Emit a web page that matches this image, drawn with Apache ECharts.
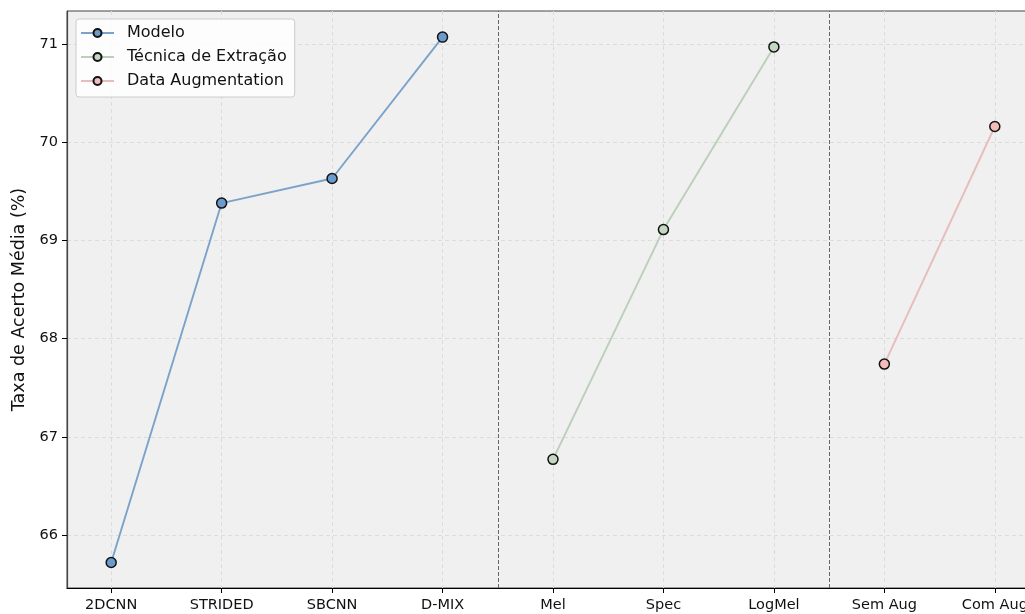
<!DOCTYPE html>
<html>
<head>
<meta charset="utf-8">
<style>
  html, body { margin: 0; padding: 0; background: #ffffff; }
  #chart { width: 1025px; height: 614px; }
</style>
<script src="https://cdn.jsdelivr.net/npm/echarts@6/dist/echarts.min.js"></script>
</head>
<body>
<div id="chart"></div>
<script>
// Categories along the x axis, in plotting order
const categories = ['2DCNN', 'STRIDED', 'SBCNN', 'D-MIX', 'Mel', 'Spec', 'LogMel', 'Sem Aug', 'Com Aug'];

// Mean accuracy (%) per group
const modeloValues = [65.72, 69.38, 69.63, 71.07];
const tecnicaValues = [66.77, 69.11, 70.97];
const augValues = [67.74, 70.16];

// Group boundaries drawn as dashed separators
const separators = [3.5, 6.5];

// Y tick values
const yTicks = [66, 67, 68, 69, 70, 71];

const xTicks = categories.map((_, i) => i);

function points(values, offset) {
  return values.map((v, i) => [offset + i, v]);
}

const FONT = 'DejaVu Sans';

function lineSeries(name, values, offset, lineColor, fillColor) {
  return {
    name: name,
    type: 'line',
    data: points(values, offset),
    symbol: 'circle',
    symbolSize: 10,
    lineStyle: { color: lineColor, width: 1.9 },
    itemStyle: { color: fillColor, borderColor: '#111111', borderWidth: 1.5 },
    emphasis: { disabled: true },
    z: 3
  };
}

const series = [
  lineSeries('Modelo', modeloValues, 0, '#7ba2ca', '#6b9bcd'),
  lineSeries('Técnica de Extração', tecnicaValues, 4, '#bccfba', '#c4d7c2'),
  lineSeries('Data Augmentation', augValues, 7, '#e6bdbb', '#f1bcba')
];

// Dashed separators between groups
series.push({
  name: 'sep',
  type: 'line',
  data: [],
  silent: true,
  markLine: {
    silent: true,
    symbol: ['none', 'none'],
    label: { show: false },
    lineStyle: { color: '#666666', type: [4, 2], width: 1 },
    emphasis: { disabled: true },
    data: separators.map(x => ({ xAxis: x }))
  }
});

const chart = echarts.init(document.getElementById('chart'), null, { renderer: 'canvas' });

chart.setOption({
  animation: false,
  backgroundColor: '#ffffff',
  grid: {
    left: 67, top: 11, width: 972, height: 577,
    outerBoundsMode: 'none',
    containLabel: false,
    show: true,
    backgroundColor: '#f0f0f0',
    borderColor: '#444444',
    borderWidth: 1
  },
  legend: {
    data: ['Modelo', 'Técnica de Extração', 'Data Augmentation'],
    orient: 'vertical',
    left: 76, top: 19,
    itemWidth: 33, itemHeight: 10,
    itemGap: 8,
    padding: [6, 8, 8, 4],
    backgroundColor: 'rgba(255,255,255,0.85)',
    borderColor: '#cccccc',
    borderWidth: 1,
    borderRadius: 3,
    textStyle: { fontFamily: FONT, fontSize: 16, color: '#111111', padding: [0, 0, 0, 8] }
  },
  xAxis: {
    type: 'value',
    min: -0.4, max: 8.4,
    axisLine: { show: true, onZero: false, lineStyle: { color: '#000000', width: 1.2 } },
    axisTick: { show: true, length: 5, customValues: xTicks, lineStyle: { color: '#000000' } },
    axisLabel: {
      customValues: xTicks,
      formatter: v => categories[Math.round(v)] ?? '',
      fontFamily: FONT, fontSize: 14.5, color: '#111111', margin: 10
    },
    splitLine: { show: true, lineStyle: { color: '#dcdcdc', type: [4, 3], width: 1 } }
  },
  yAxis: {
    type: 'value',
    min: 65.46, max: 71.336,
    name: 'Taxa de Acerto Média (%)',
    nameLocation: 'middle',
    nameGap: 39,
    nameTextStyle: { fontFamily: FONT, fontSize: 17.5, color: '#111111' },
    axisLine: { show: true, onZero: false, lineStyle: { color: '#444444', width: 1.2 } },
    axisTick: { show: true, length: 5, customValues: yTicks, lineStyle: { color: '#000000' } },
    axisLabel: {
      customValues: yTicks,
      formatter: v => String(Math.round(v)),
      fontFamily: FONT, fontSize: 14.5, color: '#111111', margin: 9
    },
    splitLine: { show: true, lineStyle: { color: '#dcdcdc', type: [4, 3], width: 1 } }
  },
  series: series
});
</script>
</body>
</html>
